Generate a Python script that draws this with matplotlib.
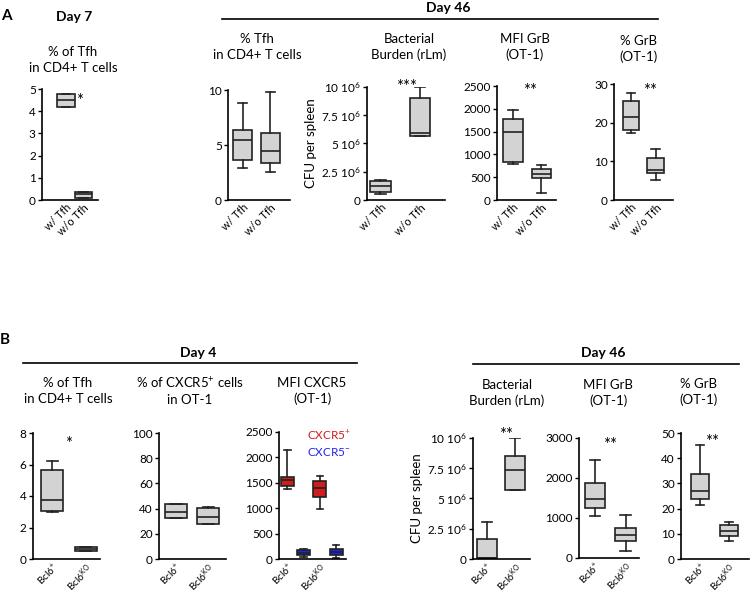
import numpy as np
import matplotlib
matplotlib.use("Agg")
import matplotlib.pyplot as plt
from matplotlib.lines import Line2D

plt.rcParams['font.family'] = ['Lato', 'DejaVu Sans']
plt.rcParams['mathtext.fontset'] = 'custom'
plt.rcParams['mathtext.rm'] = 'Lato'
plt.rcParams['mathtext.it'] = 'Lato:italic'
plt.rcParams['mathtext.bf'] = 'Lato:bold'

# group labels
grp_a = ["w/ Tfh", "w/o Tfh"]
grp_b = ["Bcl6$^{+}$", "Bcl6$^{\\mathrm{KO}}$"]

# five-number summaries per group: whislo, q1, median, q3, whishi
a_tfh_d7 = [[4.18, 4.18, 4.5, 4.77, 4.77], [0.1, 0.1, 0.25, 0.38, 0.38]]
a_tfh_d46 = [[2.9, 3.6, 5.5, 6.36, 8.8], [2.57, 3.33, 4.45, 6.1, 9.8]]
a_cfu = [[0.53, 0.68, 1.24, 1.68, 1.76], [5.65, 5.65, 5.88, 9.03, 10.0]]   # x 10^6
a_mfi_grb = [[789, 826, 1498, 1770, 1974], [160, 489, 577, 680, 767]]
a_pct_grb = [[17.4, 18.1, 21.6, 25.7, 27.8], [5.2, 7.1, 7.7, 10.8, 13.2]]

b_tfh_d4 = [[2.98, 3.03, 3.72, 5.67, 6.2], [0.49, 0.49, 0.61, 0.76, 0.76]]
b_cxcr5_pct = [[32.5, 32.5, 37.0, 43.6, 43.6], [27.8, 27.8, 33.3, 40.2, 41.0]]
b_mfi_cxcr5_pos = [[1372, 1438, 1557, 1609, 2137], [976, 1227, 1392, 1537, 1642]]
b_mfi_cxcr5_neg = [[40, 73, 119, 171, 191], [26, 73, 138, 191, 277]]
b_cfu = [[0.0, 0.05, 0.12, 1.67, 3.04], [5.7, 5.7, 7.34, 8.5, 10.0]]   # x 10^6
b_mfi_grb = [[1052, 1243, 1475, 1864, 2444], [164, 435, 575, 740, 1076]]
b_pct_grb = [[21.6, 23.8, 27.1, 33.9, 45.4], [7.3, 9.3, 11.2, 13.6, 14.6]]

cfu_ticks = [0, 2.5, 5, 7.5, 10]
cfu_labels = ["0", "2.5 10$^{6}$", "5 10$^{6}$", "7.5 10$^{6}$", "10 10$^{6}$"]

W, H = 750, 593
fig = plt.figure(figsize=(W / 100, H / 100), dpi=100)

GREY = "#d3d3d3"
RED = "#d01c1c"
BLUE = "#2222f0"


def make_ax(x0, x1, ytop, ybot, xsize=7.8):
    ax = fig.add_axes([x0 / W, 1 - ybot / H, (x1 - x0) / W, (ybot - ytop) / H])
    for s in ("top", "right"):
        ax.spines[s].set_visible(False)
    for s in ("left", "bottom"):
        ax.spines[s].set_linewidth(1.2)
    ax.tick_params(axis="y", length=3, width=1, labelsize=8.5, pad=1.5)
    ax.tick_params(axis="x", length=0, labelsize=xsize, pad=1.5)
    return ax


def boxes(ax, data, pos, width, color=GREY, scale=1.0):
    stats = []
    for d in data:
        lo, q1, med, q3, hi = [v * scale for v in d]
        stats.append(dict(whislo=lo, q1=q1, med=med, q3=q3, whishi=hi, fliers=[]))
    ax.bxp(stats, positions=pos, widths=width, patch_artist=True, showfliers=False,
           boxprops=dict(facecolor=color, edgecolor="#222222", linewidth=1.2),
           medianprops=dict(color="#222222", linewidth=1.2),
           whiskerprops=dict(color="#222222", linewidth=1.2),
           capprops=dict(color="#222222", linewidth=1.2))


def xlabels(ax, labels, pos=(1, 2)):
    ax.set_xticks(list(pos))
    ax.set_xticklabels(labels, rotation=45, ha="right", rotation_mode="anchor")


def ftext(x, y, s, **kw):
    fig.text(x / W, 1 - y / H, s, ha="center", va="center", **kw)


def hline(x0, x1, y):
    fig.add_artist(Line2D([x0 / W, x1 / W], [1 - y / H, 1 - y / H], color="black", lw=1.2))


def stars(ax, x, y, s):
    ax.text(x, y, s, ha="center", va="center", fontsize=12, clip_on=False)


# ---------------- panel A ----------------
ax = make_ax(42, 98, 89, 200)
boxes(ax, a_tfh_d7, [1, 2], 1.0)
ax.set_xlim(-0.37, 2.83); ax.set_ylim(0, 5)
ax.set_yticks(range(0, 6))
xlabels(ax, grp_a)
stars(ax, 1.78, 4.45, "*")

ax = make_ax(228, 290, 90, 200)
boxes(ax, a_tfh_d46, [1, 2], 0.68)
ax.set_xlim(0.48, 2.70); ax.set_ylim(0, 10)
ax.set_yticks([0, 5, 10])
xlabels(ax, grp_a)

ax = make_ax(367, 445, 86.7, 200)
boxes(ax, a_cfu, [1, 2], 0.51, scale=1e6)
ax.set_xlim(0.66, 2.63); ax.set_ylim(0, 10e6)
ax.set_yticks(np.array(cfu_ticks) * 1e6)
ax.set_yticklabels(cfu_labels)
ax.set_ylabel("CFU per spleen", fontsize=9.5, labelpad=3)
xlabels(ax, grp_a)
stars(ax, 1.67, 10.0e6, "***")

ax = make_ax(497, 556, 86, 200)
boxes(ax, a_mfi_grb, [1, 2], 0.68)
ax.set_xlim(0.44, 2.51); ax.set_ylim(0, 2500)
ax.set_yticks(range(0, 2501, 500))
xlabels(ax, grp_a)
stars(ax, 1.6, 2380, "**")

ax = make_ax(614, 673, 84.3, 200)
boxes(ax, a_pct_grb, [1, 2], 0.66)
ax.set_xlim(0.31, 2.71); ax.set_ylim(0, 30)
ax.set_yticks([0, 10, 20, 30])
xlabels(ax, grp_a)
stars(ax, 1.78, 28.2, "**")

ftext(6, 16, "A", fontsize=11, fontweight="bold")
ftext(74, 17, "Day 7", fontsize=10, fontweight="bold")
ftext(448, 8, "Day 46", fontsize=10, fontweight="bold")
hline(222, 658, 19)
ftext(73, 60, "% of Tfh\nin CD4+ T cells", fontsize=9.5, linespacing=1.35)
ftext(257, 47, "% Tfh\nin CD4+ T cells", fontsize=9.5, linespacing=1.35)
ftext(409, 47, "Bacterial\nBurden (rLm)", fontsize=9.5, linespacing=1.35)
ftext(525, 47, "MFI GrB\n(OT-1)", fontsize=9.5, linespacing=1.35)
ftext(639, 49, "% GrB\n(OT-1)", fontsize=9.5, linespacing=1.35)

# ---------------- panel B ----------------
ax = make_ax(33, 100, 433, 559, 7.2)
boxes(ax, b_tfh_d4, [1, 2], 0.66)
ax.set_xlim(0.43, 2.43); ax.set_ylim(0, 8)
ax.set_yticks(range(0, 9, 2))
xlabels(ax, grp_b)
stars(ax, 1.48, 7.3, "*")

ax = make_ax(159, 226, 433, 559, 7.2)
boxes(ax, b_cxcr5_pct, [1, 2], 0.69)
ax.set_xlim(0.47, 2.56); ax.set_ylim(0, 100)
ax.set_yticks(range(0, 101, 20))
xlabels(ax, grp_b)

ax = make_ax(279, 346, 432, 559, 7.2)
boxes(ax, b_mfi_cxcr5_pos, [1, 2], 0.4, color=RED)
boxes(ax, b_mfi_cxcr5_neg, [1.5, 2.5], 0.4, color=BLUE)
ax.set_xlim(0.74, 2.8); ax.set_ylim(0, 2500)
ax.set_yticks(range(0, 2501, 500))
xlabels(ax, grp_b)
ax.text(2.28, 2430, "CXCR5$^{+}$", color=RED, ha="center", va="center", fontsize=8.5)
ax.text(2.28, 2100, "CXCR5$^{-}$", color=BLUE, ha="center", va="center", fontsize=8.5)

ax = make_ax(473, 530, 437.7, 559, 7.2)
boxes(ax, b_cfu, [1, 2], 0.7, scale=1e6)
ax.set_xlim(0.51, 2.51); ax.set_ylim(0, 10e6)
ax.set_yticks(np.array(cfu_ticks) * 1e6)
ax.set_yticklabels(cfu_labels)
ax.set_ylabel("CFU per spleen", fontsize=9.5, labelpad=3)
xlabels(ax, grp_b)
stars(ax, 1.67, 10.2e6, "**")

ax = make_ax(579, 639, 438, 558, 7.2)
boxes(ax, b_mfi_grb, [1, 2], 0.66)
ax.set_xlim(0.48, 2.44); ax.set_ylim(0, 3000)
ax.set_yticks(range(0, 3001, 1000))
xlabels(ax, grp_b)
stars(ax, 1.5, 2830, "**")

ax = make_ax(681, 749, 433, 559, 7.2)
boxes(ax, b_pct_grb, [1, 2], 0.6)
ax.set_xlim(0.34, 2.69); ax.set_ylim(0, 50)
ax.set_yticks(range(0, 51, 10))
xlabels(ax, grp_b)
stars(ax, 1.41, 46.5, "**")

ftext(5, 340, "B", fontsize=11, fontweight="bold")
ftext(198, 353, "Day 4", fontsize=10, fontweight="bold")
hline(23, 357, 363)
ftext(603, 353, "Day 46", fontsize=10, fontweight="bold")
hline(473, 739, 364)
ftext(68, 391, "% of Tfh\nin CD4+ T cells", fontsize=9.5, linespacing=1.35)
ftext(190, 391, "% of CXCR5$^{+}$ cells\nin OT-1", fontsize=9.5, linespacing=1.35)
ftext(312, 391, "MFI CXCR5\n(OT-1)", fontsize=9.5, linespacing=1.35)
ftext(507, 393, "Bacterial\nBurden (rLm)", fontsize=9.5, linespacing=1.35)
ftext(608, 393, "MFI GrB\n(OT-1)", fontsize=9.5, linespacing=1.35)
ftext(698, 392, "% GrB\n(OT-1)", fontsize=9.5, linespacing=1.35)

fig.savefig("out.png", dpi=100, facecolor="white")
